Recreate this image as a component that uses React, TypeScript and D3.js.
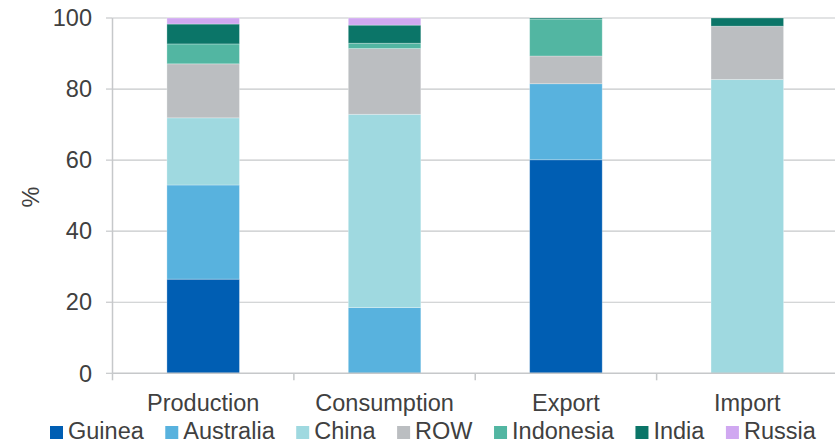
import React, { useMemo } from "react";
import * as d3 from "d3";

// Share of world bauxite by stage, in percent
const categories = ["Production", "Consumption", "Export", "Import"];
const seriesNames = ["Guinea", "Australia", "China", "ROW", "Indonesia", "India", "Russia"];
const guinea = [26.5, 0, 60.1, 0];
const australia = [26.5, 18.5, 21.4, 0];
const china = [18.9, 54.4, 0, 82.7];
const row = [15.2, 18.5, 7.8, 15.0];
const indonesia = [5.6, 1.5, 10.4, 0];
const india = [5.6, 5.1, 0.3, 2.3];
const russia = [1.7, 2.0, 0, 0];
const yTicks = [0, 20, 40, 60, 80, 100];

const seriesValues = [guinea, australia, china, row, indonesia, india, russia];
const colors = ["#005EB3", "#58B2DE", "#9FD9E0", "#BBBEC1", "#52B6A2", "#0B7568", "#D0A8F1"];

const W = 835;
const H = 443;
const FONT = "Arial, 'Liberation Sans', sans-serif";
const FS = 23.5;
const TEXT = "#404040";
const GRID = "#C6C8CA";

export default function App() {
  const rows = categories.map((c, i) => {
    const r: Record<string, any> = { category: c };
    seriesNames.forEach((s, j) => (r[s] = seriesValues[j][i]));
    return r;
  });
  const stacked = d3.stack<any>().keys(seriesNames)(rows);

  const x = d3
    .scaleBand<string>()
    .domain(categories)
    .range([112.5, 838])
    .paddingInner(0.6)
    .paddingOuter(0.3);
  const slot = d3.scaleBand<string>().domain(categories).range([112.5, 838]);
  const y = d3.scaleLinear().domain([0, 100]).range([373.3, 18]);

  const legend = useMemo(() => {
    const ctx = document.createElement("canvas").getContext("2d");
    let cx = 50;
    return seriesNames.map((name, i) => {
      let w = name.length * 12;
      if (ctx) {
        ctx.font = `${FS}px Arial, "Liberation Sans", sans-serif`;
        w = ctx.measureText(name).width;
      }
      const item = { name, color: colors[i], x: cx };
      cx += 13 + 5 + w + 21.5;
      return item;
    });
  }, []);

  const x0 = 112.5;
  const x1 = W;

  return (
    <svg
      width={W}
      height={H}
      style={{ position: "absolute", left: 0, top: 0, background: "#fff" }}
      fontFamily={FONT}
    >
      {/* horizontal gridlines and y ticks */}
      {yTicks.map((t) => (
        <g key={t}>
          {t > 0 && (
            <line x1={x0} x2={x1} y1={y(t)} y2={y(t)} stroke={GRID} strokeWidth={1.2} />
          )}
          <line x1={106} x2={x0} y1={y(t)} y2={y(t)} stroke={GRID} strokeWidth={1.2} />
          <text
            x={92}
            y={y(t)}
            dy="0.35em"
            textAnchor="end"
            fontSize={FS}
            fill={TEXT}
          >
            {t}
          </text>
        </g>
      ))}

      {/* stacked bars */}
      {stacked.map((layer, si) => (
        <g key={layer.key} fill={colors[si]}>
          {layer.map((d, ci) =>
            d[1] - d[0] > 0 ? (
              <rect
                key={ci}
                x={x(categories[ci])}
                width={x.bandwidth()}
                y={y(d[1])}
                height={y(d[0]) - y(d[1])}
                stroke="#ffffff"
                strokeOpacity={0.35}
                strokeWidth={0.8}
              />
            ) : null
          )}
        </g>
      ))}

      {/* axes */}
      <line x1={x0} x2={x0} y1={y(100)} y2={y(0)} stroke={GRID} strokeWidth={1.5} />
      <line x1={x0} x2={x1} y1={y(0)} y2={y(0)} stroke={GRID} strokeWidth={1.5} />
      {categories.map((c) => (
        <line
          key={c}
          x1={slot(c)!}
          x2={slot(c)!}
          y1={y(0)}
          y2={y(0) + 7}
          stroke={GRID}
          strokeWidth={1.5}
        />
      ))}
      {categories.map((c) => (
        <text
          key={c}
          x={x(c)! + x.bandwidth() / 2}
          y={410.7}
          textAnchor="middle"
          fontSize={FS}
          fill={TEXT}
        >
          {c}
        </text>
      ))}

      {/* y axis title */}
      <text
        transform="translate(38.5,197) rotate(-90)"
        textAnchor="middle"
        fontSize={FS}
        fill={TEXT}
      >
        %
      </text>

      {/* legend */}
      {legend.map((item) => (
        <g key={item.name}>
          <rect x={item.x} y={426} width={13} height={13} fill={item.color} />
          <text x={item.x + 18} y={439} fontSize={FS} fill={TEXT}>
            {item.name}
          </text>
        </g>
      ))}
    </svg>
  );
}
